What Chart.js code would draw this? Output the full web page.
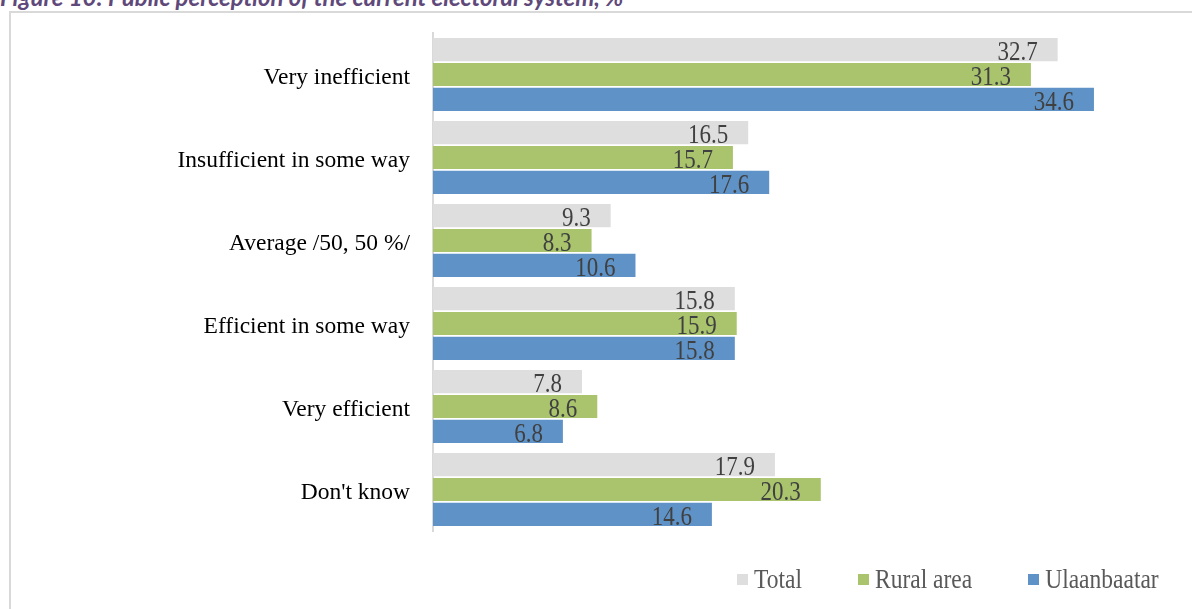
<!DOCTYPE html>
<html>
<head>
<meta charset="utf-8">
<title>Public perception of the current electoral system</title>
<script src="https://cdn.jsdelivr.net/npm/chart.js"></script>
<style>
  html, body { margin: 0; padding: 0; background: #fff; overflow: hidden; }
  body { width: 1192px; height: 609px; position: relative; }
  #caption {
    position: absolute; left: 0; top: -15px; white-space: nowrap;
    font: italic bold 24px Lato, "Open Sans", sans-serif; line-height: 24px;
    color: #5f497a;
  }
  #frame {
    position: absolute; left: 9px; top: 11px; width: 1200px; height: 620px;
    border-left: 2px solid #d9d9d9; border-top: 2px solid #d9d9d9;
  }
  #wrap { position: absolute; left: 0; top: 0; width: 1192px; height: 609px; }
  #legend {
    position: absolute; left: 737px; top: 566px; display: flex; gap: 56px;
    font: 23.5px "Liberation Serif", "Times New Roman", serif; color: #595959;
  }
  #legend .item { display: flex; align-items: center; }
  #legend .box { width: 11px; height: 11px; margin-right: 6px; }
  #legend .txt { display: inline-block; transform: scaleY(1.12); line-height: 26px; }
</style>
</head>
<body>
<div id="caption">Figure 10: Public perception of the current electoral system, %</div>
<div id="frame"></div>
<div id="wrap"><canvas id="chart" width="1192" height="609"></canvas></div>
<div id="legend"></div>
<script>
  const categories = ['Very inefficient', 'Insufficient in some way', 'Average /50, 50 %/',
    'Efficient in some way', 'Very efficient', "Don't know"];
  const totalValues = [32.7, 16.5, 9.3, 15.8, 7.8, 17.9];
  const ruralValues = [31.3, 15.7, 8.3, 15.9, 8.6, 20.3];
  const ubValues = [34.6, 17.6, 10.6, 15.8, 6.8, 14.6];
  const seriesNames = ['Total', 'Rural area', 'Ulaanbaatar'];
  const seriesColors = ['#dedede', '#a9c46c', '#5f93c8'];

  // value text inside the end of every bar
  const barLabels = {
    id: 'barLabels',
    afterDatasetsDraw(chart) {
      const ctx = chart.ctx;
      ctx.save();
      ctx.font = '23px "Liberation Serif", "Times New Roman", serif';
      ctx.fillStyle = '#404040';
      ctx.textAlign = 'right';
      ctx.textBaseline = 'alphabetic';
      chart.data.datasets.forEach((ds, i) => {
        chart.getDatasetMeta(i).data.forEach((bar, j) => {
          const y = bar.y + bar.height / 2 - 1;
          ctx.save();
          ctx.translate(bar.x - 20, y);
          ctx.scale(1, 1.15);
          ctx.fillText(ds.data[j].toFixed(1), 0, 0);
          ctx.restore();
        });
      });
      ctx.restore();
    }
  };

  const chart = new Chart(document.getElementById('chart'), {
    type: 'bar',
    data: {
      labels: categories,
      datasets: [totalValues, ruralValues, ubValues].map((vals, i) => ({
        label: seriesNames[i],
        data: vals,
        backgroundColor: seriesColors[i],
        borderWidth: 0,
        categoryPercentage: 0.9,
        barPercentage: 0.93
      }))
    },
    options: {
      indexAxis: 'y',
      responsive: false,
      animation: false,
      layout: { padding: { top: 33, bottom: 78, left: 0, right: 14 } },
      plugins: { legend: { display: false }, tooltip: { enabled: false } },
      scales: {
        x: { display: false, min: 0, max: 39 },
        y: {
          grid: { display: false },
          border: { display: true, color: '#d9d9d9', width: 2 },
          ticks: {
            color: '#000',
            padding: 15,
            labelOffset: 3,
            font: { family: '"Liberation Serif", "Times New Roman", serif', size: 23.5 }
          },
          afterFit(scale) { scale.width = 433; }
        }
      }
    },
    plugins: [barLabels]
  });

  // legend built from the datasets
  const legend = document.getElementById('legend');
  chart.data.datasets.forEach(ds => {
    const item = document.createElement('span');
    item.className = 'item';
    item.innerHTML = '<span class="box" style="background:' + ds.backgroundColor +
      '"></span><span class="txt">' + ds.label + '</span>';
    legend.appendChild(item);
  });
</script>
</body>
</html>
